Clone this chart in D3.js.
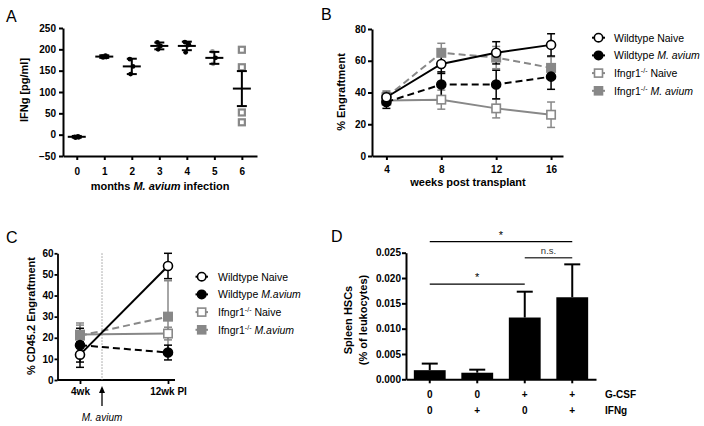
<!DOCTYPE html>
<html><head><meta charset="utf-8">
<script src="https://cdn.jsdelivr.net/npm/d3@7"></script>
<style>
body{margin:0;background:#fff}
svg{display:block}
text{font-family:"Liberation Sans",Arial,sans-serif}
</style></head><body>
<svg id="c" width="704" height="426"></svg>
<script>
// ---------- Panel A data ----------
const monthsA = [0,1,2,3,4,5,6];
const ifngPoints = [[-7,-4,-5,-6],[181,185,183,182],[142,160,177],[200,208,216],[193,210,217,212],[166,180,195],[199,158,52,29]];
const ifngMean = [-5,183,160,208,208,180,108];
const ifngSem  = [2,3,18,8,10,14,41];
const ticksA   = [-50,0,50,100,150,200,250];

// ---------- Panel B data ----------
const weeksB = [4,8,12,16];
const legendB = ["Wildtype Naive","Wildtype M. avium","Ifngr1-/- Naive","Ifngr1-/- M. avium"];
const bWtNaive = [37,58,65,70],   bWtNaiveErr = [3,6,7,7];
const bWtMav   = [34,45,45,50],   bWtMavErr   = [4,8,9,8];
const bKoNaive = [35,35.5,30,26], bKoNaiveErr = [3,6,6,8];
const bKoMav   = [37,65,62,55.5], bKoMavErr   = [4,6,7,7];
const ticksB = [0,20,40,60,80];

// ---------- Panel C data ----------
const timesC = ["4wk","12wk PI"];
const legendC = ["Wildtype Naive","Wildtype M.avium","Ifngr1-/- Naive","Ifngr1-/- M.avium"];
const cWtNaive = [12,54],   cWtNaiveErr = [6,6];
const cWtMav   = [16.5,13], cWtMavErr   = [8,3.5];
const cKoNaive = [21.5,22], cKoNaiveErr = [5.5,3];
const cKoMav   = [21,30],   cKoMavErr   = [5,17];
const ticksC = [0,10,20,30,40,50,60];

// ---------- Panel D data ----------
const groupsD = ["g1","g2","g3","g4"];
const gcsfRow = ["0","0","+","+"];
const ifngRow = ["0","+","0","+"];
const hscVals = [0.0018,0.0013,0.0122,0.0162];
const hscErr  = [0.0013,0.0006,0.0051,0.0065];
const ticksD  = [0,0.005,0.010,0.015,0.020,0.025];
const sigD = [{from:0,to:3,y:0.0272,label:"*"},{from:0,to:2,y:0.0188,label:"*"},{from:2,to:3,y:0.0240,label:"n.s."}];

// ---------- helpers ----------
const svg = d3.select("#c");
const GREY = "#888";
const styles = [
  {color:"#000", fill:"#fff", shape:"circle", dash:null},
  {color:"#000", fill:"#000", shape:"circle", dash:"7,4"},
  {color:GREY,  fill:"#fff", shape:"square", dash:null},
  {color:GREY,  fill:GREY,  shape:"square", dash:"7,4"}
];
function styleAxis(g, sw){
  g.selectAll(".domain").attr("stroke","#000").attr("stroke-width",sw||2);
  g.selectAll(".tick line").attr("stroke","#000").attr("stroke-width",sw||2);
  g.selectAll(".tick text").attr("font-family","Liberation Sans, Arial, sans-serif")
    .attr("font-weight","bold").attr("font-size",10).attr("fill","#000");
}
function richLabel(t, label){
  t.text(null);
  let s = label;
  const m = s.match(/^(.*?)(-\/-)(.*)$/);
  let parts = [];
  if(m){ parts.push({t:m[1]}); parts.push({t:m[2],sup:true}); s=m[3]; }
  const im = s.match(/^(.*?)(M\.\s?avium)(.*)$/);
  if(im){ parts.push({t:im[1]}); parts.push({t:im[2],it:true}); if(im[3]) parts.push({t:im[3]}); }
  else parts.push({t:s});
  let supped=false;
  parts.forEach(p=>{
    if(!p.t) return;
    const ts = t.append("tspan").text(p.t);
    if(p.sup){ ts.attr("font-size",7).attr("dy",-4); supped=true; }
    else if(supped){ ts.attr("dy",4); supped=false; }
    if(p.it) ts.attr("font-style","italic");
  });
}
function marker(g, st, x, y, r){
  if(st.shape==="circle"){
    g.append("circle").attr("cx",x).attr("cy",y).attr("r",r)
      .attr("fill",st.fill).attr("stroke",st.color).attr("stroke-width",1.6);
  } else {
    g.append("rect").attr("x",x-r).attr("y",y-r).attr("width",2*r).attr("height",2*r)
      .attr("fill",st.fill).attr("stroke",st.color).attr("stroke-width",1.6);
  }
}
function panelLetter(txt,x,y){
  svg.append("text").attr("x",x).attr("y",y).attr("font-size",16).text(txt);
}

// ================= Panel A =================
{
  const g = svg.append("g");
  const x = d3.scaleLinear().domain([-0.5,6.55]).range([63,257]);
  const y = d3.scaleLinear().domain([-50,250]).range([156,28]);
  g.append("g").attr("transform","translate(63,0)")
    .call(d3.axisLeft(y).tickValues(ticksA).tickSize(4).tickSizeOuter(0).tickPadding(3))
    .call(a=>styleAxis(a));
  g.append("g").attr("transform","translate(0,156)")
    .call(d3.axisBottom(x).tickValues(monthsA).tickFormat(d3.format("d")).tickSize(4).tickSizeOuter(0).tickPadding(8))
    .call(a=>styleAxis(a));
  monthsA.forEach((m,i)=>{
    const cx = x(m);
    ifngPoints[i].forEach((v,j)=>{
      if(m===6){
        g.append("rect").attr("x",cx-3).attr("y",y(v)-3).attr("width",6).attr("height",6)
          .attr("fill","#fff").attr("stroke",GREY).attr("stroke-width",2.2);
      } else {
        const dx = (j%2===0? -1.2: 1.2) * (j>1?1.6:1);
        g.append("circle").attr("cx",cx+dx).attr("cy",y(v)).attr("r",2.4)
          .attr("fill", m===5 && j!==1 ? "#999" : "#000");
      }
    });
    const lo = y(ifngMean[i]-ifngSem[i]), hi = y(ifngMean[i]+ifngSem[i]);
    g.append("line").attr("x1",cx).attr("x2",cx).attr("y1",lo).attr("y2",hi).attr("stroke","#000").attr("stroke-width",2);
    [lo,hi].forEach(yy=>g.append("line").attr("x1",cx-5).attr("x2",cx+5).attr("y1",yy).attr("y2",yy).attr("stroke","#000").attr("stroke-width",2));
    g.append("line").attr("x1",cx-9).attr("x2",cx+9).attr("y1",y(ifngMean[i])).attr("y2",y(ifngMean[i])).attr("stroke","#000").attr("stroke-width",2);
  });
  g.append("text").attr("transform","translate(28,90) rotate(-90)").attr("text-anchor","middle")
    .attr("font-weight","bold").attr("font-size",11).text("IFNg [pg/ml]");
  const xl = g.append("text").attr("x",160).attr("y",190).attr("text-anchor","middle")
    .attr("font-weight","bold").attr("font-size",11);
  xl.append("tspan").text("months ");
  xl.append("tspan").attr("font-style","italic").text("M. avium");
  xl.append("tspan").text(" infection");
  panelLetter("A",6,22);
}

// ================= Panel B =================
{
  const g = svg.append("g");
  const x = d3.scaleLinear().domain([2.95,16.87]).range([372,563]);
  const y = d3.scaleLinear().domain([0,80]).range([156,29]);
  g.append("g").attr("transform","translate(372,0)")
    .call(d3.axisLeft(y).tickValues(ticksB).tickSize(4).tickSizeOuter(0).tickPadding(2))
    .call(a=>styleAxis(a));
  g.append("g").attr("transform","translate(0,156)")
    .call(d3.axisBottom(x).tickValues(weeksB).tickFormat(d3.format("d")).tickSize(4).tickSizeOuter(0).tickPadding(6))
    .call(a=>styleAxis(a));
  const series = [[bKoNaive,bKoNaiveErr,2],[bKoMav,bKoMavErr,3],[bWtMav,bWtMavErr,1],[bWtNaive,bWtNaiveErr,0]];
  series.forEach(([vals,errs,si])=>{
    const st = styles[si];
    vals.forEach((v,i)=>{
      const cx=x(weeksB[i]);
      const lo=y(v-errs[i]), hi=y(v+errs[i]);
      g.append("line").attr("x1",cx).attr("x2",cx).attr("y1",lo).attr("y2",hi).attr("stroke",st.color).attr("stroke-width",1.5);
      [lo,hi].forEach(yy=>g.append("line").attr("x1",cx-4).attr("x2",cx+4).attr("y1",yy).attr("y2",yy).attr("stroke",st.color).attr("stroke-width",1.5));
    });
  });
  series.forEach(([vals,errs,si])=>{
    const st = styles[si];
    g.append("path").datum(vals).attr("fill","none").attr("stroke",st.color).attr("stroke-width",2)
      .attr("stroke-dasharray",st.dash)
      .attr("d",d3.line().x((d,i)=>x(weeksB[i])).y(d=>y(d)));
    vals.forEach((v,i)=>marker(g,st,x(weeksB[i]),y(v),st.shape==="circle"?4.5:4.2));
  });
  const lg = g.append("g");
  legendB.forEach((lab,i)=>{
    const st = styles[i], yy = 37.7 + i*17.7;
    lg.append("line").attr("x1",592).attr("x2",605).attr("y1",yy).attr("y2",yy).attr("stroke",st.color).attr("stroke-width",2);
    marker(lg,st,598.5,yy,st.shape==="circle"?4.2:4);
    const t = lg.append("text").attr("x",614).attr("y",yy+3.8).attr("font-size",10.5);
    richLabel(t,lab);
  });
  g.append("text").attr("transform","translate(345,92) rotate(-90)").attr("text-anchor","middle")
    .attr("font-weight","bold").attr("font-size",11).text("% Engraftment");
  g.append("text").attr("x",468).attr("y",186).attr("text-anchor","middle")
    .attr("font-weight","bold").attr("font-size",11).text("weeks post transplant");
  panelLetter("B",321,20);
}

// ================= Panel C =================
{
  const g = svg.append("g");
  const x = d3.scalePoint().domain(timesC).range([80,168]);
  const y = d3.scaleLinear().domain([0,60]).range([380,253.3]);
  g.append("g").attr("transform","translate(57.5,0)")
    .call(d3.axisLeft(y).tickValues(ticksC).tickSize(3).tickSizeOuter(0).tickPadding(1))
    .call(a=>styleAxis(a,1.8));
  const xa = g.append("g").attr("transform","translate(0,380)")
    .call(d3.axisBottom(x).tickSize(4).tickSizeOuter(0).tickPadding(4))
    .call(a=>styleAxis(a,1.8));
  xa.select(".domain").remove();
  xa.append("line").attr("x1",57.5).attr("x2",175).attr("stroke","#000").attr("stroke-width",1.8);
  const xm = x(timesC[0]) + 0.25*(x(timesC[1])-x(timesC[0]));
  g.append("line").attr("x1",xm).attr("x2",xm).attr("y1",y(60)).attr("y2",y(0))
    .attr("stroke","#999").attr("stroke-width",1).attr("stroke-dasharray","1.5,1.5");
  // arrow
  g.append("line").attr("x1",xm).attr("x2",xm).attr("y1",406).attr("y2",390).attr("stroke","#000").attr("stroke-width",1.3);
  g.append("path").attr("d",`M${xm-3},${393}L${xm},${386}L${xm+3},${393}Z`).attr("fill","#000");
  g.append("text").attr("x",xm).attr("y",421).attr("text-anchor","middle").attr("font-size",10)
    .attr("font-style","italic").text("M. avium");
  const series = [[cKoNaive,cKoNaiveErr,2],[cKoMav,cKoMavErr,3],[cWtMav,cWtMavErr,1],[cWtNaive,cWtNaiveErr,0]];
  series.forEach(([vals,errs,si])=>{
    const st = styles[si];
    vals.forEach((v,i)=>{
      const cx=x(timesC[i]);
      const lo=y(v-errs[i]), hi=y(v+errs[i]);
      g.append("line").attr("x1",cx).attr("x2",cx).attr("y1",lo).attr("y2",hi).attr("stroke",st.color).attr("stroke-width",1.5);
      [lo,hi].forEach(yy=>g.append("line").attr("x1",cx-4).attr("x2",cx+4).attr("y1",yy).attr("y2",yy).attr("stroke",st.color).attr("stroke-width",1.5));
    });
  });
  series.forEach(([vals,errs,si])=>{
    const st = styles[si];
    g.append("path").datum(vals).attr("fill","none").attr("stroke",st.color).attr("stroke-width",2)
      .attr("stroke-dasharray",st.dash)
      .attr("d",d3.line().x((d,i)=>x(timesC[i])).y(d=>y(d)));
    vals.forEach((v,i)=>marker(g,st,x(timesC[i]),y(v),st.shape==="circle"?4.5:4.2));
  });
  const lg = g.append("g");
  legendC.forEach((lab,i)=>{
    const st = styles[i], yy = 276.7 + i*17.7;
    lg.append("line").attr("x1",195.5).attr("x2",208).attr("y1",yy).attr("y2",yy).attr("stroke",st.color).attr("stroke-width",2);
    marker(lg,st,201.7,yy,st.shape==="circle"?4.2:4);
    const t = lg.append("text").attr("x",218).attr("y",yy+3.8).attr("font-size",10.5);
    richLabel(t,lab);
  });
  g.append("text").attr("transform","translate(35,316) rotate(-90)").attr("text-anchor","middle")
    .attr("font-weight","bold").attr("font-size",11).text("% CD45.2 Engraftment");
  panelLetter("C",6,243);
}

// ================= Panel D =================
{
  const g = svg.append("g");
  const x = d3.scaleBand().domain(groupsD).range([406,596]).paddingInner(0.33).paddingOuter(0.165);
  const y = d3.scaleLinear().domain([0,0.025]).range([379.3,252.7]);
  g.append("g").attr("transform","translate(406,0)")
    .call(d3.axisLeft(y).tickValues(ticksD).tickFormat(d3.format(".3f")).tickSize(4).tickSizeOuter(0).tickPadding(1))
    .call(a=>styleAxis(a));
  const xa = g.append("g").attr("transform","translate(0,379.3)")
    .call(d3.axisBottom(x).tickSize(4).tickSizeOuter(0).tickFormat(""))
    .call(a=>styleAxis(a));
  groupsD.forEach((k,i)=>{
    const cx = x(k)+x.bandwidth()/2;
    const top = y(hscVals[i]), et = y(hscVals[i]+hscErr[i]);
    g.append("line").attr("x1",cx).attr("x2",cx).attr("y1",top).attr("y2",et).attr("stroke","#000").attr("stroke-width",2);
    g.append("line").attr("x1",cx-8).attr("x2",cx+8).attr("y1",et).attr("y2",et).attr("stroke","#000").attr("stroke-width",2);
  });
  g.selectAll("rect.bar").data(hscVals).join("rect").attr("class","bar")
    .attr("x",(d,i)=>x(groupsD[i])).attr("width",x.bandwidth())
    .attr("y",d=>y(d)).attr("height",d=>y(0)-y(d)).attr("fill","#000");
  sigD.forEach(s=>{
    const x1 = x(groupsD[s.from])+x.bandwidth()/2, x2 = x(groupsD[s.to])+x.bandwidth()/2;
    const yy = y(s.y);
    const ns = s.label!=="*";
    g.append("line").attr("x1",x1).attr("x2",x2).attr("y1",yy).attr("y2",yy)
      .attr("stroke",ns?"#444":"#000").attr("stroke-width",ns?1.6:1.2);
    g.append("text").attr("x",(x1+x2)/2).attr("y",ns? yy-4 : yy-3).attr("text-anchor","middle")
      .attr("font-size",ns?9.5:11).attr("fill",ns?"#333":"#000").text(s.label);
  });
  groupsD.forEach((k,i)=>{
    const cx = x(k)+x.bandwidth()/2;
    g.append("text").attr("x",cx).attr("y",397.5).attr("text-anchor","middle").attr("font-weight","bold").attr("font-size",10).text(gcsfRow[i]);
    g.append("text").attr("x",cx).attr("y",414).attr("text-anchor","middle").attr("font-weight","bold").attr("font-size",10).text(ifngRow[i]);
  });
  g.append("text").attr("x",605).attr("y",397.5).attr("font-weight","bold").attr("font-size",10).text("G-CSF");
  g.append("text").attr("x",605).attr("y",414).attr("font-weight","bold").attr("font-size",10).text("IFNg");
  const yl = g.append("text").attr("transform","translate(0,320) rotate(-90)").attr("text-anchor","middle")
    .attr("font-weight","bold").attr("font-size",11);
  yl.append("tspan").attr("x",0).attr("y",352).text("Spleen HSCs");
  yl.append("tspan").attr("x",0).attr("y",367).text("(% of leukocytes)");
  panelLetter("D",331,242);
}
</script>
</body></html>
